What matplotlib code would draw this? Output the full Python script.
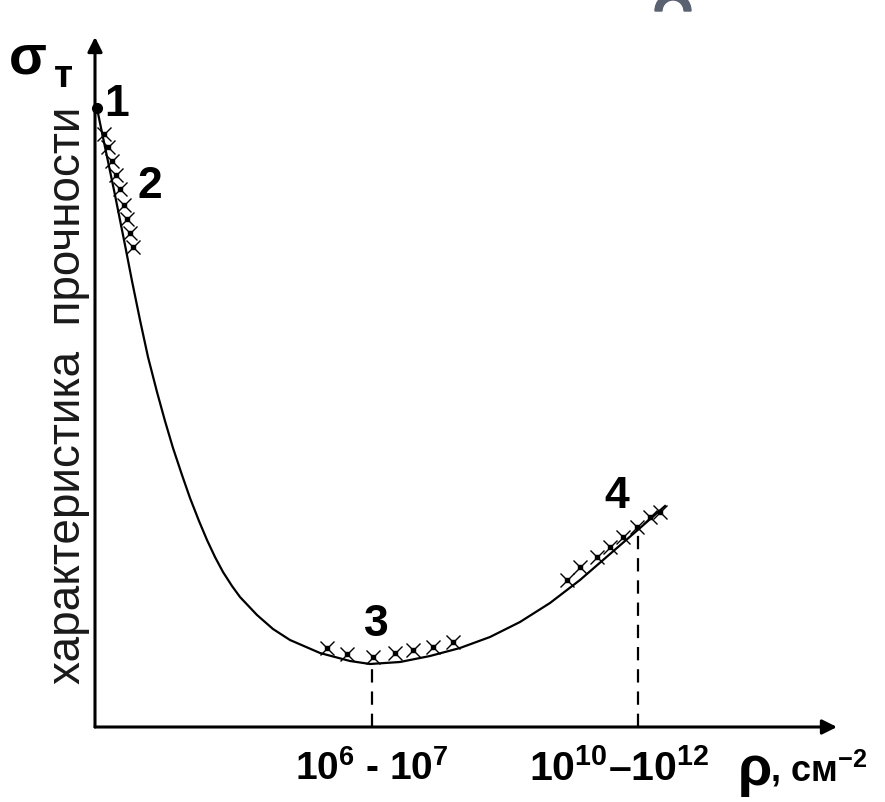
import numpy as np
import matplotlib.pyplot as plt
from matplotlib.patches import FancyArrowPatch, Wedge

plt.rcParams['mathtext.fontset'] = 'custom'
plt.rcParams['mathtext.rm'] = 'Liberation Sans'
plt.rcParams['mathtext.bf'] = 'Liberation Sans:bold'
plt.rcParams['mathtext.it'] = 'Liberation Sans:italic'

# curve (units: px from the axes origin)
curve_x = [2, 5, 10, 15, 20, 25, 30, 37, 45, 53, 62, 70, 78, 87, 95, 104, 112, 120,
           128, 137, 145, 162, 178, 195, 225, 255, 275, 305, 335, 365, 395, 425, 455,
           485, 515, 545, 570]
curve_y = [619, 604, 580, 556, 532, 507, 482, 446, 407, 370, 335, 306, 279, 252, 229,
           206, 187, 170, 155, 141, 130, 112, 98, 87, 74, 66, 63, 65, 71, 79, 90, 105,
           124, 147, 173, 199, 221]

# experimental crosses, regions 2, 3, 4
cross2_x = [9, 13, 17, 21, 25, 29, 32, 35, 38]
cross2_y = [593, 580, 566, 552, 538, 522, 508, 494, 480]
cross3_x = [232, 252, 278, 300, 318, 338, 358]
cross3_y = [79, 73, 70, 74, 77, 80, 85]
cross4_x = [472, 485, 502, 515, 528, 542, 555, 565]
cross4_y = [147, 160, 170, 180, 190, 200, 210, 215]

# marked point 1, dashed drop lines at 3 and 4
point1 = (2, 619)
drop_x = [277, 543]
drop_y = [63, 200]

fig = plt.figure(figsize=(8.85, 8.02), dpi=100)
ax = fig.add_axes([0, 0, 1, 1])
ax.set_xlim(-95, 790)
ax.set_ylim(-75, 727)
ax.axis('off')

# axes with arrows
ax.add_patch(FancyArrowPatch((0, 0), (0, 690), arrowstyle='-|>', mutation_scale=22,
                             lw=2.2, color='black', shrinkA=0, shrinkB=0))
ax.add_patch(FancyArrowPatch((0, 0), (742, 0), arrowstyle='-|>', mutation_scale=22,
                             lw=2.2, color='black', shrinkA=0, shrinkB=0))

ax.plot(curve_x, curve_y, color='black', lw=1.6, solid_joinstyle='round')
for cx, cy in [(cross2_x, cross2_y), (cross3_x, cross3_y), (cross4_x, cross4_y)]:
    ax.plot(cx, cy, ls='none', marker='x', ms=10, mew=1.0, color='black')
    ax.plot(cx, cy, ls='none', marker='s', ms=3, color='black')
ax.plot(*point1, marker='o', ms=7, color='black')

for dx, dy in zip(drop_x, drop_y):
    ax.plot([dx, dx], [0, dy], color='black', lw=1.6, ls=(0, (6, 4)))

num_font = dict(family='Liberation Sans', weight='bold', fontsize=32, color='black')
ax.text(22, 622, '1', ha='center', va='center', **num_font)
ax.text(55, 541, '2', ha='center', va='center', **num_font)
ax.text(281, 102, '3', ha='center', va='center', **num_font)
ax.text(522, 230, '4', ha='center', va='center', **num_font)

lab_font = dict(family='Liberation Sans', weight='bold', fontsize=28, color='black')
ax.text(277, -42, r'$\mathbf{10^{6}}$ - $\mathbf{10^{7}}$', ha='center', va='center', **lab_font)
ax.text(524, -42, r'$\mathbf{10^{10}}$–$\mathbf{10^{12}}$', ha='center', va='center',
        family='Liberation Sans', weight='bold', fontsize=29.5)
ax.text(643, -44, 'ρ', ha='left', va='center', fontsize=40, weight='bold',
        family='Liberation Sans')
ax.text(675, -42, r', см$^{\mathbf{-2}}$', ha='left', va='center', fontsize=26,
        weight='bold', family='Liberation Sans')

ax.text(-67, 667, 'σ', ha='center', va='center', fontsize=40, weight='bold',
        family='Liberation Sans')
ax.text(-32, 650, 'т', ha='center', va='center', fontsize=28, weight='bold',
        family='Liberation Sans')

ax.text(-27, 332, 'характеристика  прочности', rotation=90, ha='center', va='center',
        fontsize=33, family='Liberation Sans', color='#1a1a1a')

# stray grey mark at the top edge of the scan
ax.add_patch(Wedge((578, 716), 18, 0, 180, width=7, color='#5a6170'))

fig.savefig('out.png', dpi=100)
